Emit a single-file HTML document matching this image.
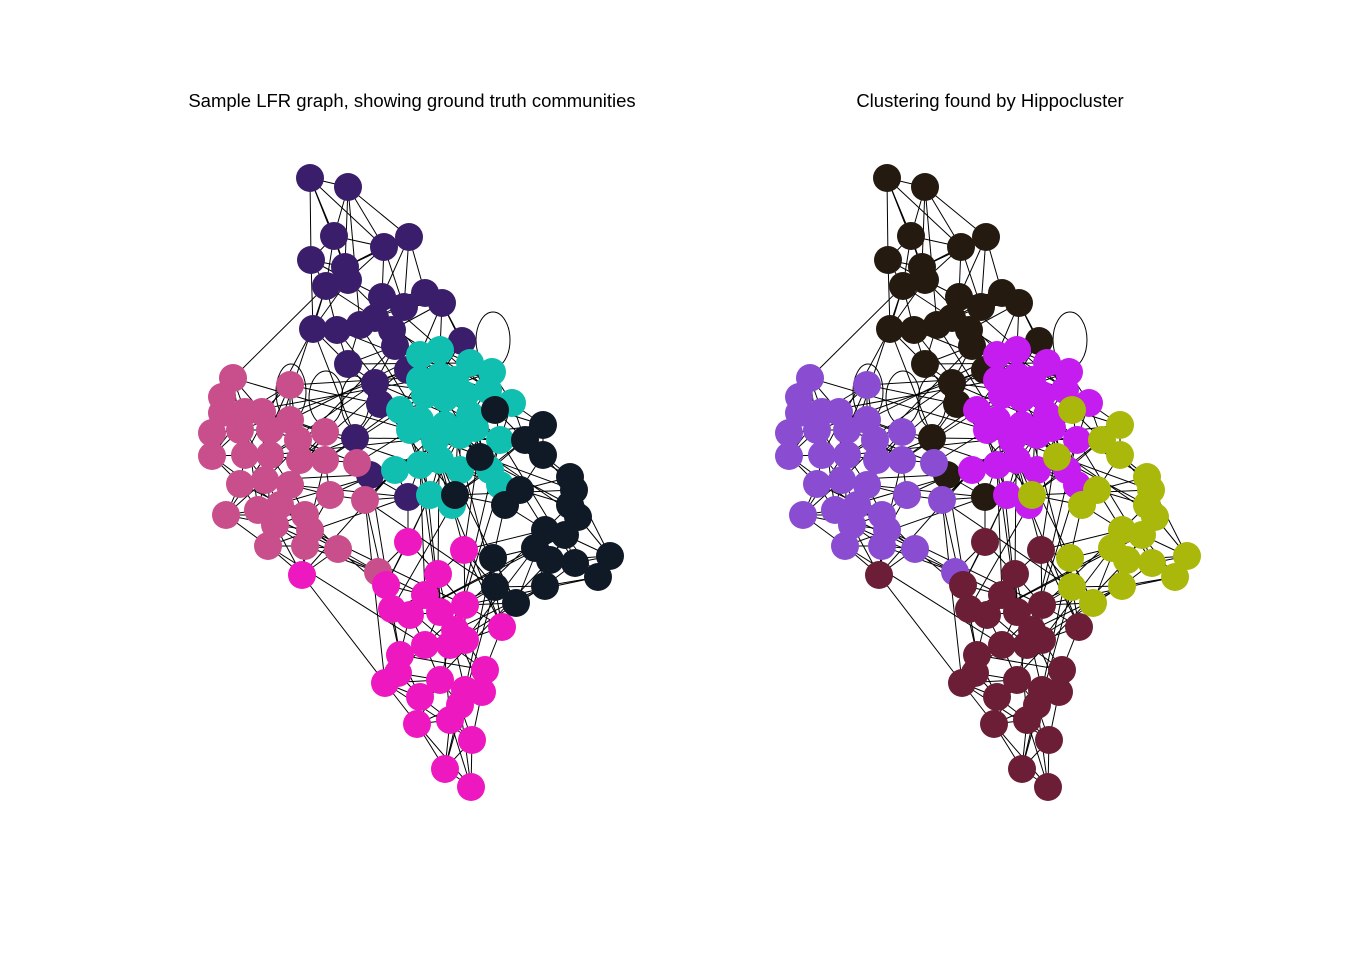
<!DOCTYPE html>
<html><head><meta charset="utf-8"><style>
html,body{margin:0;padding:0;background:#fff;}
svg{display:block;font-family:"Liberation Sans",sans-serif;}
</style></head><body>
<svg id="chart" width="1367" height="957" viewBox="0 0 1367 957">
<text x="412" y="107" font-size="18.5" text-anchor="middle">Sample LFR graph, showing ground truth communities</text>
<text x="990" y="107" font-size="18.5" text-anchor="middle">Clustering found by Hippocluster</text>
<g id="left"></g>
<g id="right"></g>
</svg>
<script>
const commA=[[310,178],[348,187],[334,236],[384,247],[409,237],[311,260],[345,267],[348,280],[326,286],[382,297],[404,307],[425,293],[442,303],[313,329],[337,330],[360,325],[375,318],[392,330],[395,346],[348,364],[375,383],[380,404],[408,370],[355,438],[370,475],[408,497],[462,341]];
const commB=[[420,355],[440,350],[470,363],[492,372],[488,390],[512,403],[440,376],[425,395],[445,398],[465,395],[400,410],[420,420],[445,425],[470,415],[410,430],[435,440],[460,435],[475,428],[500,440],[395,470],[420,465],[440,460],[460,470],[490,470],[430,495],[452,505],[500,485],[420,380],[455,380]];
const commC=[[543,425],[525,440],[543,455],[480,457],[570,477],[574,490],[520,490],[505,505],[570,505],[578,517],[545,530],[565,535],[535,548],[550,560],[575,563],[610,556],[598,577],[545,586],[493,558],[495,587],[516,603],[495,410],[455,495]];
const commD=[[233,378],[290,385],[222,397],[222,413],[245,412],[262,412],[290,420],[212,433],[240,430],[270,430],[298,440],[325,432],[212,456],[245,455],[270,455],[300,460],[325,460],[357,463],[240,484],[265,480],[290,485],[330,495],[365,500],[258,510],[280,505],[305,515],[226,515],[275,525],[310,530],[268,546],[305,546],[338,549],[378,572]];
const commE=[[408,542],[464,550],[302,575],[438,574],[386,585],[425,595],[465,605],[392,609],[410,615],[440,612],[455,630],[502,627],[400,655],[425,645],[450,645],[465,640],[485,670],[398,673],[385,683],[440,680],[465,690],[482,692],[420,697],[460,705],[417,724],[450,720],[472,740],[445,769],[471,787]];
const selfLoops=[[493,340,17,28],[291,392,15,28],[326,398,17,27],[355,402,14,26]];
const leftColors=["#3b1e6b","#10bfb0","#101a26","#c94f8c","#ee18c0"];
const rightColors=["#241a10","#c51cf0","#a9b80b","#8a4dd1","#6b1e35"];
const comms=[commA,commB,commC,commD,commE];
const NS="http://www.w3.org/2000/svg";
const nodes=[];
comms.forEach((c,ci)=>c.forEach(p=>nodes.push({x:p[0],y:p[1],c:ci})));
const N=nodes.length;
const edges=[];const seen=new Set();
function addE(i,j){if(i===j)return;const key=Math.min(i,j)+"-"+Math.max(i,j);if(!seen.has(key)){seen.add(key);edges.push([i,j]);}}
nodes.forEach((n,i)=>{
  const d=nodes.map((m,j)=>[j,(m.x-n.x)**2+(m.y-n.y)**2]).filter(a=>a[0]!==i).sort((a,b)=>a[1]-b[1]);
  for(let k=0;k<5;k++)addE(i,d[k][0]);
  for(let t=1;t<=2;t++){const j=(i*7+t*37)%N;const m=nodes[j];const dd=Math.hypot(m.x-n.x,m.y-n.y);if(dd<200)addE(i,j);}
});
function draw(gid,off,colors){
  const g=document.getElementById(gid);
  selfLoops.forEach(s=>{
    const e=document.createElementNS(NS,"ellipse");
    e.setAttribute("cx",s[0]+off);e.setAttribute("cy",s[1]);e.setAttribute("rx",s[2]);e.setAttribute("ry",s[3]);
    e.setAttribute("fill","none");e.setAttribute("stroke","#000");e.setAttribute("stroke-width","1");
    
    
    g.appendChild(e);
  });
  edges.forEach(e=>{
    const a=nodes[e[0]],b=nodes[e[1]];
    const l=document.createElementNS(NS,"line");
    l.setAttribute("x1",a.x+off);l.setAttribute("y1",a.y);l.setAttribute("x2",b.x+off);l.setAttribute("y2",b.y);
    l.setAttribute("stroke","#000");l.setAttribute("stroke-width","1");
    
    
    g.appendChild(l);
  });
  nodes.forEach(n=>{
    const c=document.createElementNS(NS,"circle");
    c.setAttribute("cx",n.x+off);c.setAttribute("cy",n.y);c.setAttribute("r","14");
    c.setAttribute("fill",colors[n.c]);
    
    
    g.appendChild(c);
  });
}
draw("left",0,leftColors);
draw("right",577,rightColors);
</script>
</body></html>
